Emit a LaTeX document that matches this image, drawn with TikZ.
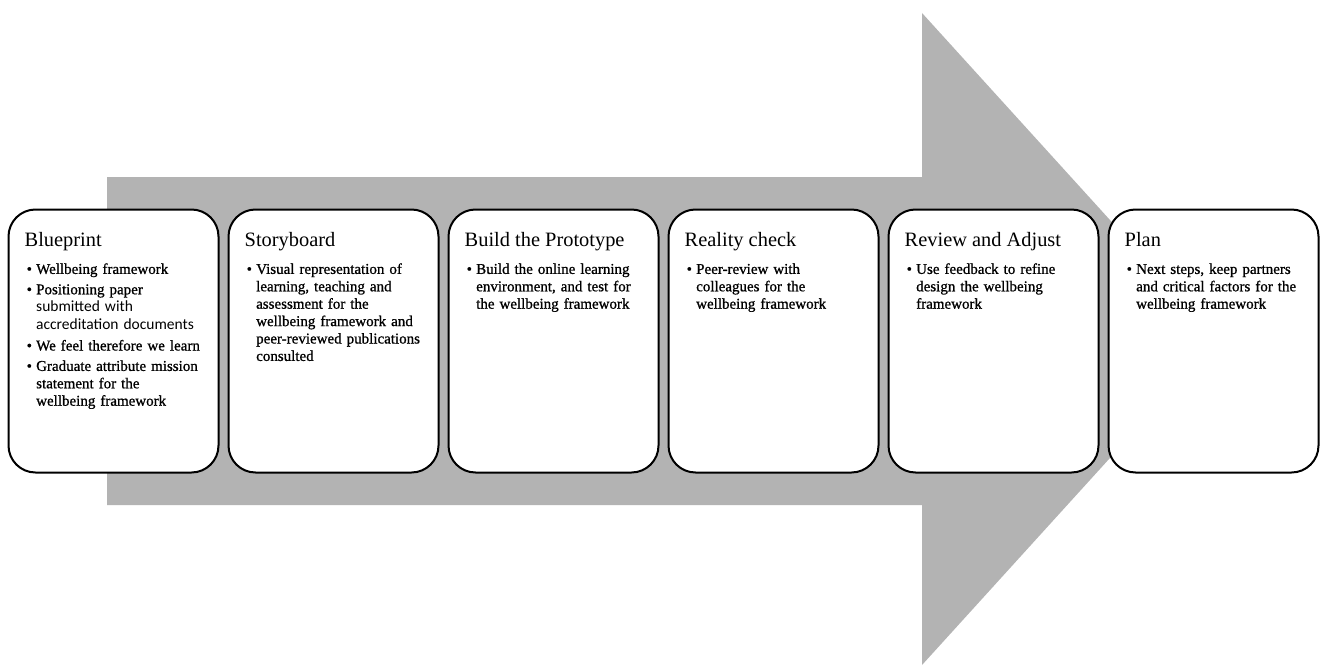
\documentclass[tikz,border=0pt]{standalone}
\usepackage{fontspec}
\setmainfont{Liberation Serif}
\newfontfamily\bodyfont[FakeBold=0.9]{Liberation Serif}
\newfontfamily\calibrifont{Carlito}
\definecolor{arrowgrey}{RGB}{179,179,179}
\tikzset{
  stage/.style={draw=black, line width=2pt, fill=white, rounded corners=27pt,
    minimum width=210pt, minimum height=263pt, inner sep=0pt},
  stagetitle/.style={anchor=base west, inner sep=0pt,
    font=\fontsize{20.4}{24}\selectfont},
  stagebody/.style={anchor=north west, inner sep=0pt, text width=192pt,
    align=left, font=\bodyfont\fontsize{15}{17.4}\selectfont},
}
% one bullet point; its continuation lines hang under the first word
\newcommand\stageitem[1]{\par\noindent\makebox[9.5pt][l]{\textbullet}%
  \parbox[t]{182pt}{\raggedright\strut#1\strut}\par}
\newcommand\stagebullets[1]{\setlength{\parskip}{3pt}#1}

\begin{document}
\begin{tikzpicture}[x=1pt,y=-1pt]
  \useasboundingbox (0,0) rectangle (1324,666);

  % the big grey arrow behind the stages
  \fill[arrowgrey] (107,177) -- (922,177) -- (922,13) -- (1218,339)
    -- (922,665) -- (922,505) -- (107,505) -- cycle;

  % stage boxes
  \foreach \i/\name in {0/blueprint,1/storyboard,2/prototype,3/reality,4/review,5/plan}{
    \node[stage] (\name) at ({113.5+220*\i},341) {};
  }

  % titles
  \node[stagetitle] (t1) at ([xshift=17pt]blueprint.west |- 0,246) {Blueprint};
  \node[stagetitle] (t2) at ([xshift=17pt]storyboard.west |- 0,246) {Storyboard};
  \node[stagetitle] (t3) at ([xshift=17pt]prototype.west |- 0,246) {Build the Prototype};
  \node[stagetitle] (t4) at ([xshift=17pt]reality.west |- 0,246) {Reality check};
  \node[stagetitle] (t5) at ([xshift=17pt]review.west |- 0,246) {Review and Adjust};
  \node[stagetitle] (t6) at ([xshift=17pt]plan.west |- 0,246) {Plan};

  % bullet texts
  \node[stagebody] (b1) at ([xshift=19pt]blueprint.west |- 0,253.3) {\stagebullets{%
    \stageitem{Wellbeing framework}
    \stageitem{Positioning paper\\{\calibrifont\fontsize{15.5}{17.4}\selectfont submitted with}\\{\calibrifont\fontsize{15.5}{17.4}\selectfont accreditation documents}}
    \stageitem{We feel therefore we learn}
    \stageitem{Graduate attribute mission\\statement for the\\wellbeing framework}}};
  \node[stagebody] (b2) at ([xshift=19pt]storyboard.west |- 0,253.3) {\stagebullets{%
    \stageitem{Visual representation of\\learning, teaching and\\assessment for the\\wellbeing framework and\\peer-reviewed publications\\consulted}}};
  \node[stagebody] (b3) at ([xshift=19pt]prototype.west |- 0,253.3) {\stagebullets{%
    \stageitem{Build the online learning\\environment, and test for\\the wellbeing framework}}};
  \node[stagebody] (b4) at ([xshift=19pt]reality.west |- 0,253.3) {\stagebullets{%
    \stageitem{Peer-review with\\colleagues for the\\wellbeing framework}}};
  \node[stagebody] (b5) at ([xshift=19pt]review.west |- 0,253.3) {\stagebullets{%
    \stageitem{Use feedback to refine\\design the wellbeing\\framework}}};
  \node[stagebody] (b6) at ([xshift=19pt]plan.west |- 0,253.3) {\stagebullets{%
    \stageitem{Next steps, keep partners\\and critical factors for the\\wellbeing framework}}};
\end{tikzpicture}
\end{document}
